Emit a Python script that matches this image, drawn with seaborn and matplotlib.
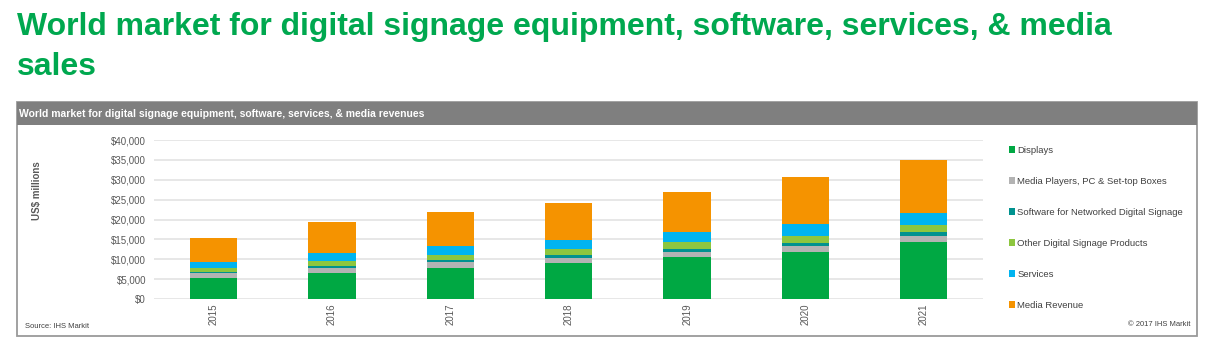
import numpy as np
import pandas as pd
import seaborn as sns
import matplotlib.pyplot as plt
from matplotlib.patches import Rectangle, Patch
from matplotlib.ticker import FuncFormatter

# --- data (US$ millions) ---
years = ['2015', '2016', '2017', '2018', '2019', '2020', '2021']
displays = [5400, 6600, 7850, 9100, 10500, 11850, 14250]
media_players = [1100, 1250, 1400, 1250, 1400, 1500, 1500]
software = [350, 420, 580, 750, 750, 830, 1000]
other_products = [1000, 1250, 1170, 1500, 1580, 1750, 1850]
services = [1580, 2080, 2330, 2330, 2670, 3000, 3150]
media_revenue = [5900, 7650, 8570, 9330, 10100, 11800, 13100]

series = ['Displays', 'Media Players, PC & Set-top Boxes',
          'Software for Networked Digital Signage',
          'Other Digital Signage Products', 'Services', 'Media Revenue']
colors = ['#00a843', '#b3b3b3', '#00928f', '#8dc63f', '#00b4f0', '#f59300']

df = pd.DataFrame({'Year': years, series[0]: displays, series[1]: media_players,
                   series[2]: software, series[3]: other_products,
                   series[4]: services, series[5]: media_revenue})
cum = df[series].cumsum(axis=1)

W, H = 1207, 353
sns.set_style('white')
plt.rcParams['font.family'] = ['Liberation Sans', 'DejaVu Sans']
fig = plt.figure(figsize=(W / 100, H / 100), dpi=100)

def fx(px):
    return px / W

def fy(py):
    return 1 - py / H

# --- panel frame and header bar ---
fig.patches.append(Rectangle((fx(17), fy(336)), fx(1197) - fx(17), fy(102) - fy(336),
                             transform=fig.transFigure, fill=False,
                             edgecolor='#9a9a9a', lw=1.3, zorder=0))
fig.patches.append(Rectangle((fx(17), fy(125)), fx(1197) - fx(17), fy(102) - fy(125),
                             transform=fig.transFigure, facecolor='#7f7f7f',
                             edgecolor='none', zorder=1))

fig.text(fx(17), fy(35), 'World market for digital signage equipment, software, services, & media',
         color='#00a84f', fontsize=23, fontweight='bold', va='baseline')
fig.text(fx(17), fy(75), 'sales', color='#00a84f', fontsize=23,
         fontweight='bold', va='baseline')
fig.text(fx(19), fy(113.5), 'World market for digital signage equipment, software, services, & media revenues',
         color='white', fontsize=7.5, fontweight='bold', va='center')

# --- chart ---
ax = fig.add_axes([fx(154.5), fy(299), fx(983) - fx(154.5), fy(140) - fy(299)])
for i in range(len(series) - 1, -1, -1):
    sns.barplot(x=df['Year'], y=cum[series[i]], color=colors[i], width=0.4,
                saturation=1, linewidth=0, ax=ax, zorder=3)

ax.set_ylim(0, 40000)
ax.set_yticks(np.arange(0, 40001, 5000))
ax.yaxis.set_major_formatter(FuncFormatter(lambda v, p: f'${v:,.0f}'))
ax.grid(axis='y', color='#e0e0e0', lw=1.1, zorder=0)
ax.set_axisbelow(True)
for s in ax.spines.values():
    s.set_visible(False)
ax.set_xlabel('')
ax.set_ylabel('')
ax.tick_params(axis='y', length=0, pad=6, labelsize=7, labelcolor='#595959')
ax.tick_params(axis='x', length=0, pad=3, labelsize=7, labelcolor='#595959')
for lbl in ax.get_xticklabels():
    lbl.set_rotation(90)
    lbl.set_va('top')

fig.text(fx(37), fy(191), 'US$ millions', rotation=90, fontsize=7,
         fontweight='bold', color='#595959', ha='center', va='center')

# --- legend ---
handles = [Patch(facecolor=c, edgecolor='none') for c in colors]
fig.legend(handles, series, loc='upper left', bbox_to_anchor=(fx(1000), fy(137)),
           frameon=False, fontsize=6.8, handlelength=0.7, handleheight=0.7,
           handletextpad=0.25, labelspacing=2.34, labelcolor='#404040')

fig.text(fx(25), fy(326), 'Source: IHS Markit', fontsize=5.5, color='#404040', va='center')
fig.text(fx(1190), fy(324), '\u00a9 2017 IHS Markit', fontsize=5.5, color='#404040',
         ha='right', va='center')

fig.savefig('out.png', dpi=100)
